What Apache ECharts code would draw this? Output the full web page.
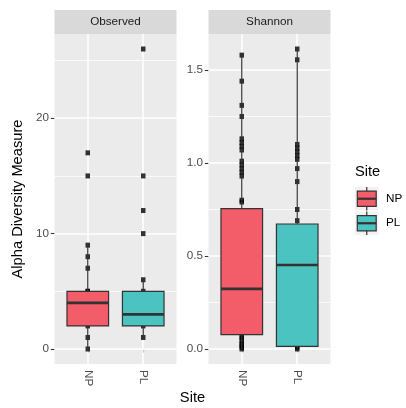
<!DOCTYPE html>
<html><head><meta charset="utf-8">
<script src="https://cdn.jsdelivr.net/npm/echarts@6/dist/echarts.min.js"></script>
<style>html,body{margin:0;padding:0;background:#fff}#c{width:406px;height:408px}</style>
</head><body><div id="c"></div>
<script>
// ---------- data ----------
const categories = ['NP', 'PL'];
const panels = ['Observed', 'Shannon'];
const siteColors = ['#F35D6A', '#4AC3C1'];

// individual sample values (points)
const observedNP = [0, 1, 2, 3, 4, 5, 5, 7, 8, 9, 15, 17];
const observedPL = [1, 2, 3, 5, 6, 10, 12, 15, 26];
const shannonNP = [0.0, 0.01, 0.02, 0.03, 0.045, 0.06, 0.07, 0.2, 0.5, 0.79, 0.80, 0.93, 0.95, 0.97, 0.99, 1.01, 1.07, 1.09, 1.11, 1.13, 1.25, 1.31, 1.44, 1.58];
const shannonPL = [0.0, 0.01, 0.3, 0.69, 0.75, 0.90, 0.97, 1.02, 1.04, 1.06, 1.08, 1.10, 1.555, 1.613];

// box statistics: [lower whisker, Q1, median, Q3, upper whisker]
const observedBoxNP = [0, 2, 4, 5, 9];
const observedBoxPL = [1, 2, 3, 5, 6];
const shannonBoxNP = [0, 0.077, 0.323, 0.755, 1.577];
const shannonBoxPL = [0, 0.014, 0.452, 0.672, 1.613];

// axes
const observedTicks = [0, 10, 20];
const observedMinor = [5, 15, 25];
const observedRange = [-1.3, 27.3];
const shannonTicks = [0, 0.5, 1.0, 1.5];
const shannonMinor = [0.25, 0.75, 1.25];
const shannonRange = [-0.0807, 1.6937];
const xPositions = [1, 2];
const xRange = [0.4, 2.6];

// ---------- layout ----------
const FONT = 'Liberation Sans, Arial, Helvetica, sans-serif';
const PANEL_TOP = 34, PANEL_H = 330, PANEL_W = 122;
const PANEL_LEFT = [54.5, 208.5];
const STRIP_TOP = 10, STRIP_H = 24;

const pointSets = [[observedNP, observedPL], [shannonNP, shannonPL]];
const boxSets = [[observedBoxNP, observedBoxPL], [shannonBoxNP, shannonBoxPL]];
const tickSets = [observedTicks, shannonTicks];
const minorSets = [observedMinor, shannonMinor];
const ranges = [observedRange, shannonRange];
const fmt = [v => String(v), v => Number(v).toFixed(1)];

const grids = [], xAxes = [], yAxes = [], series = [], graphics = [];

panels.forEach((name, p) => {
  grids.push({
    left: PANEL_LEFT[p], top: PANEL_TOP, width: PANEL_W, height: PANEL_H,
    show: true, backgroundColor: '#EBEBEB', borderWidth: 0, containLabel: false
  });
  xAxes.push({
    gridIndex: p, type: 'value', min: xRange[0], max: xRange[1],
    axisLine: { show: false },
    axisTick: { show: true, customValues: xPositions, length: 3.7, lineStyle: { color: '#333333', width: 1.07 } },
    axisLabel: {
      show: true, customValues: xPositions, rotate: -90, margin: 6,
      formatter: v => categories[Math.round(v) - 1] || '',
      color: '#4D4D4D', fontSize: 11.7, fontFamily: FONT
    },
    splitLine: { show: false }
  });
  yAxes.push({
    gridIndex: p, type: 'value', min: ranges[p][0], max: ranges[p][1],
    axisLine: { show: false },
    axisTick: { show: true, customValues: tickSets[p], length: 3.7, lineStyle: { color: '#333333', width: 1.07 } },
    axisLabel: {
      show: true, customValues: tickSets[p], margin: 5.5,
      formatter: fmt[p], color: '#4D4D4D', fontSize: 11.7, fontFamily: FONT
    },
    splitLine: { show: false }
  });

  // grid lines
  const mk = [];
  minorSets[p].forEach(v => mk.push({ yAxis: v, lineStyle: { color: '#FFFFFF', width: 0.75, type: 'solid' } }));
  tickSets[p].forEach(v => mk.push({ yAxis: v, lineStyle: { color: '#FFFFFF', width: 1.5, type: 'solid' } }));
  xPositions.forEach(v => mk.push({ xAxis: v, lineStyle: { color: '#FFFFFF', width: 1.5, type: 'solid' } }));
  series.push({
    type: 'scatter', xAxisIndex: p, yAxisIndex: p, data: [], z: 1, silent: true,
    markLine: { z: 1, silent: true, symbol: ['none', 'none'], label: { show: false }, animation: false, data: mk }
  });

  // points
  categories.forEach((c, i) => {
    series.push({
      type: 'scatter', xAxisIndex: p, yAxisIndex: p, z: 2, silent: true,
      symbol: 'rect', symbolSize: [4.5, 5],
      itemStyle: { color: '#000000' },
      data: pointSets[p][i].map(v => [xPositions[i], v])
    });
  });

  // boxes
  series.push({
    type: 'custom', xAxisIndex: p, yAxisIndex: p, z: 3, silent: true,
    encode: { x: 0, y: [1, 2, 3, 4, 5] },
    data: categories.map((c, i) => [xPositions[i]].concat(boxSets[p][i])),
    renderItem: (params, api) => {
      const i = params.dataIndex;
      const x = api.value(0);
      const w = api.size([0.75, 0])[0];
      const pMin = api.coord([x, api.value(1)]);
      const pQ1 = api.coord([x, api.value(2)]);
      const pMed = api.coord([x, api.value(3)]);
      const pQ3 = api.coord([x, api.value(4)]);
      const pMax = api.coord([x, api.value(5)]);
      const stroke = { stroke: '#333333', lineWidth: 1.2 };
      return {
        type: 'group', children: [
          { type: 'line', shape: { x1: pQ3[0], y1: pQ3[1], x2: pMax[0], y2: pMax[1] }, style: stroke },
          { type: 'line', shape: { x1: pQ1[0], y1: pQ1[1], x2: pMin[0], y2: pMin[1] }, style: stroke },
          { type: 'rect', shape: { x: pQ3[0] - w / 2, y: pQ3[1], width: w, height: pQ1[1] - pQ3[1] },
            style: { fill: siteColors[i], stroke: '#333333', lineWidth: 1.2 } },
          { type: 'line', shape: { x1: pMed[0] - w / 2, y1: pMed[1], x2: pMed[0] + w / 2, y2: pMed[1] },
            style: { stroke: '#333333', lineWidth: 2.6 } }
        ]
      };
    }
  });

  // strip
  graphics.push({
    type: 'rect', shape: { x: PANEL_LEFT[p], y: STRIP_TOP, width: PANEL_W, height: STRIP_H },
    style: { fill: '#D9D9D9' }, silent: true
  });
  graphics.push({
    type: 'text', x: PANEL_LEFT[p] + PANEL_W / 2, y: STRIP_TOP + STRIP_H / 2,
    style: { text: name, fill: '#1A1A1A', font: '11.7px ' + FONT, align: 'center', verticalAlign: 'middle' },
    silent: true
  });
});

// axis titles
graphics.push({
  type: 'text', x: 18, y: PANEL_TOP + PANEL_H / 2, rotation: Math.PI / 2,
  style: { text: 'Alpha Diversity Measure', fill: '#000000', font: '14.67px ' + FONT, align: 'center', verticalAlign: 'middle' },
  silent: true
});
graphics.push({
  type: 'text', x: (PANEL_LEFT[0] + PANEL_LEFT[1] + PANEL_W) / 2, y: 398,
  style: { text: 'Site', fill: '#000000', font: '14.67px ' + FONT, align: 'center', verticalAlign: 'middle' },
  silent: true
});

// legend
const LEG_X = 355, LEG_TOP = 187, KEY = 23.5, KEY_STEP = 24.5;
graphics.push({
  type: 'text', x: LEG_X, y: 172,
  style: { text: 'Site', fill: '#000000', font: '14.67px ' + FONT, align: 'left', verticalAlign: 'middle' },
  silent: true
});
categories.forEach((c, i) => {
  const top = LEG_TOP + i * KEY_STEP;
  const cx = LEG_X + KEY / 2;
  graphics.push({ type: 'rect', shape: { x: LEG_X, y: top, width: KEY, height: KEY }, style: { fill: '#F2F2F2' }, silent: true });
  graphics.push({ type: 'line', shape: { x1: cx, y1: top, x2: cx, y2: top + KEY }, style: { stroke: '#333333', lineWidth: 1.2 }, silent: true });
  graphics.push({ type: 'rect', shape: { x: LEG_X + 2.3, y: top + 4.2, width: KEY - 4.6, height: KEY - 8.4 },
    style: { fill: siteColors[i], stroke: '#333333', lineWidth: 1.2 }, silent: true });
  graphics.push({ type: 'line', shape: { x1: LEG_X + 2.3, y1: top + KEY / 2, x2: LEG_X + KEY - 2.3, y2: top + KEY / 2 },
    style: { stroke: '#333333', lineWidth: 2.2 }, silent: true });
  graphics.push({
    type: 'text', x: LEG_X + KEY + 7.5, y: top + KEY / 2,
    style: { text: c, fill: '#000000', font: '11.7px ' + FONT, align: 'left', verticalAlign: 'middle' },
    silent: true
  });
});

const chart = echarts.init(document.getElementById('c'), null, { renderer: 'canvas' });
chart.setOption({
  animation: false,
  backgroundColor: '#FFFFFF',
  grid: grids, xAxis: xAxes, yAxis: yAxes, series: series, graphic: graphics
});
</script></body></html>
